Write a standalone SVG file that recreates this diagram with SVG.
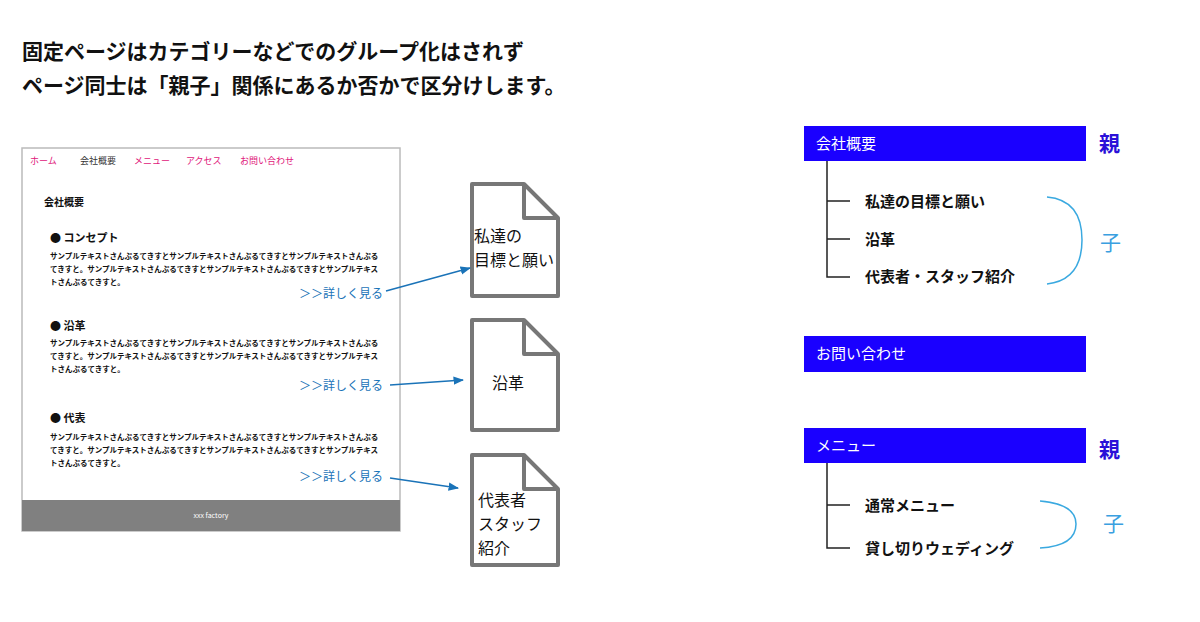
<svg xmlns="http://www.w3.org/2000/svg" width="1200" height="622" viewBox="0 0 1200 622">
<style>
text{font-family:"Noto Sans CJK JP","Noto Sans",sans-serif}
.nav{font-size:9px;fill:#e0157a}
.body{font-size:7.5px;fill:#111;font-weight:bold}
.h{font-size:11px;font-weight:bold;fill:#111}
.more{font-size:12px;fill:#1a73b8}
.doc{fill:#fff;stroke:#777;stroke-width:4;stroke-linejoin:round}
.dt{font-size:16px;fill:#111}
.box{fill:#1a00ff}
.bt{font-size:15px;fill:#fff}
.ch{font-size:15px;fill:#111;font-weight:bold}
.tree{fill:none;stroke:#222;stroke-width:1.5}
.br{fill:none;stroke:#3aa9e0;stroke-width:1.5}
.oya{font-size:21px;fill:#2a10d8;font-weight:bold}
.ko{font-size:21px;fill:#3aa0e0}
</style>
<defs><marker id="ar" viewBox="0 0 10 10" refX="9" refY="5" markerWidth="7" markerHeight="7" orient="auto"><path d="M0,1 L10,5 L0,9 z" fill="#1a73b8"/></marker></defs>
<g id="title"><text x="22" y="59" font-size="21" fill="#111" font-weight="bold">固定ページはカテゴリーなどでのグループ化はされず</text>
<text x="22" y="93" font-size="21" fill="#111" font-weight="bold">ページ同士は「親子」関係にあるか否かで区分けします。</text></g>
<g id="mockup">
<rect x="22" y="148" width="378" height="383" fill="#fff" stroke="#bbb" stroke-width="1.5"/>
<text class="nav" x="30" y="164">ホーム</text><text x="80" y="164" font-size="9" fill="#333">会社概要</text>
<text class="nav" x="134" y="164">メニュー</text><text class="nav" x="186" y="164">アクセス</text><text class="nav" x="240" y="164">お問い合わせ</text>
<text x="44" y="206" font-size="10" font-weight="bold" fill="#111">会社概要</text>
<text class="h" x="50" y="242">● コンセプト</text>
<text class="body" x="50" y="259">サンプルテキストさんぷるてきすとサンプルテキストさんぷるてきすとサンプルテキストさんぷる</text>
<text class="body" x="50" y="272">てきすと。サンプルテキストさんぷるてきすとサンプルテキストさんぷるてきすとサンプルテキス</text>
<text class="body" x="50" y="285">トさんぷるてきすと。</text>
<text class="more" x="383" y="298" text-anchor="end">＞＞詳しく見る</text>
<text class="h" x="50" y="330">● 沿革</text>
<text class="body" x="50" y="346">サンプルテキストさんぷるてきすとサンプルテキストさんぷるてきすとサンプルテキストさんぷる</text>
<text class="body" x="50" y="359">てきすと。サンプルテキストさんぷるてきすとサンプルテキストさんぷるてきすとサンプルテキス</text>
<text class="body" x="50" y="372">トさんぷるてきすと。</text>
<text class="more" x="383" y="390" text-anchor="end">＞＞詳しく見る</text>
<text class="h" x="50" y="422">● 代表</text>
<text class="body" x="50" y="440">サンプルテキストさんぷるてきすとサンプルテキストさんぷるてきすとサンプルテキストさんぷる</text>
<text class="body" x="50" y="453">てきすと。サンプルテキストさんぷるてきすとサンプルテキストさんぷるてきすとサンプルテキス</text>
<text class="body" x="50" y="466">トさんぷるてきすと。</text>
<text class="more" x="383" y="481" text-anchor="end">＞＞詳しく見る</text>
<rect x="22" y="500" width="378" height="31" fill="#808080"/>
<text x="211" y="518" font-size="7" fill="#fff" text-anchor="middle">xxx factory</text>
</g>
<g id="doc1"><path class="doc" d="M472,184 H524 L558,218 V296 H472 Z M524,184 V218 H558"/><text class="dt" x="474" y="242">私達の</text><text class="dt" x="474" y="266">目標と願い</text></g>
<g id="doc2"><path class="doc" d="M472,320 H524 L558,354 V430 H472 Z M524,320 V354 H558"/><text class="dt" x="492" y="389">沿革</text></g>
<g id="doc3"><path class="doc" d="M472,455 H524 L558,489 V565 H472 Z M524,455 V489 H558"/><text class="dt" x="478" y="506">代表者</text><text class="dt" x="478" y="530">スタッフ</text><text class="dt" x="478" y="554">紹介</text></g>
<g id="connectors">
<line x1="386" y1="291" x2="470" y2="268" stroke="#1a73b8" stroke-width="1.5" marker-end="url(#ar)"/>
<line x1="390" y1="385" x2="463" y2="380" stroke="#1a73b8" stroke-width="1.5" marker-end="url(#ar)"/>
<line x1="390" y1="478" x2="458" y2="488" stroke="#1a73b8" stroke-width="1.5" marker-end="url(#ar)"/>
<path class="tree" d="M827,161 V277 H850 M827,201 H850 M827,239 H850"/>
<path class="tree" d="M827,463 V548 H850 M827,505 H850"/>
<path class="br" d="M1047,197 Q1082,200 1082,240 Q1082,280 1047,284"/>
<path class="br" d="M1040,501 Q1076,504 1076,524 Q1076,546 1040,548"/>
</g>
<g id="n1"><rect class="box" x="804" y="126" width="282" height="35"/><text class="bt" x="816" y="149">会社概要</text><text class="oya" x="1099" y="151">親</text></g>
<g id="c1"><text class="ch" x="865" y="207">私達の目標と願い</text><text class="ch" x="865" y="245">沿革</text><text class="ch" x="865" y="282">代表者・スタッフ紹介</text><text class="ko" x="1100" y="250">子</text></g>
<g id="n2"><rect class="box" x="804" y="336" width="282" height="36"/><text class="bt" x="816" y="359">お問い合わせ</text></g>
<g id="n3"><rect class="box" x="804" y="428" width="282" height="35"/><text class="bt" x="816" y="451">メニュー</text><text class="oya" x="1099" y="457">親</text></g>
<g id="c3"><text class="ch" x="865" y="511">通常メニュー</text><text class="ch" x="865" y="554">貸し切りウェディング</text><text class="ko" x="1103" y="531">子</text></g>
</svg>
